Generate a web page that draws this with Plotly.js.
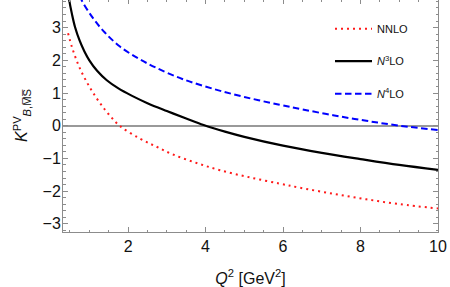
<!DOCTYPE html>
<html>
<head>
<meta charset="utf-8">
<script src="https://cdn.plot.ly/plotly-3.0.1.min.js"></script>
<style>
  html, body { margin: 0; padding: 0; background: #fff; overflow: hidden; }
  #chart { position: absolute; left: 0; top: -2px; width: 450px; height: 289px; }
</style>
</head>
<body>
<div id="chart"></div>
<script>
// Q^2 [GeV^2] values and K^PV values
const nnloX = [0.45, 0.55, 0.67, 0.8, 0.95, 1.1, 1.3, 1.5, 1.78, 2.3, 2.73, 3.16, 3.77, 4.37, 5.14, 5.91, 6.41, 7.29, 8.15, 9.01, 10];
const nnloY = [2.83, 2.41, 2.0, 1.64, 1.30, 1.0, 0.65, 0.35, 0.0, -0.39, -0.64, -0.88, -1.14, -1.36, -1.58, -1.77, -1.89, -2.08, -2.25, -2.40, -2.53];

const n3loX = [0.45, 0.48, 0.55, 0.63, 0.75, 0.87, 1.0, 1.2, 1.45, 1.75, 2.09, 2.5, 3.0, 3.5, 3.95, 4.5, 5, 6, 7, 8, 9, 10];
const n3loY = [4.1, 3.84, 3.42, 3.02, 2.60, 2.28, 2.00, 1.68, 1.39, 1.14, 0.92, 0.69, 0.45, 0.22, 0.02, -0.18, -0.34, -0.61, -0.83, -1.02, -1.20, -1.35];

const n4loX = [0.65, 0.8, 1.1, 1.4, 1.79, 2.26, 2.73, 3.4, 4.19, 5.0, 5.91, 6.5, 7.29, 8.15, 9.01, 10];
const n4loY = [4.25, 3.84, 3.28, 2.85, 2.42, 2.06, 1.77, 1.43, 1.13, 0.88, 0.64, 0.50, 0.32, 0.15, 0.0, -0.13];

const seriesNames = ['NNLO', '<i>N</i><sup>3</sup>LO', '<i>N</i><sup>4</sup>LO'];
const xTickVals = [2, 4, 6, 8, 10];
const yTickVals = [-3, -2, -1, 0, 1, 2, 3];

const FONT = 'Liberation Sans, Arial, sans-serif';
const AXC = '#8c8c8c';

const traces = [
  { x: nnloX, y: nnloY, name: seriesNames[0], legendgroup: 'a', mode: 'lines',
    line: { color: '#ff1a1a', width: 2, dash: '2px,4px', shape: 'spline' } },
  { x: n3loX, y: n3loY, name: seriesNames[1], legendgroup: 'b', mode: 'lines',
    line: { color: '#000000', width: 2.2, shape: 'spline' } },
  { x: n4loX, y: n4loY, name: seriesNames[2], legendgroup: 'c', mode: 'lines',
    line: { color: '#0000ff', width: 2, dash: '6.5px,3.5px', shape: 'spline' } }
];

const axisCommon = {
  showline: true, linecolor: AXC, linewidth: 1, mirror: 'ticks',
  ticks: 'inside', ticklen: 5, tickcolor: AXC, tickwidth: 1,
  showgrid: false,
  tickfont: { family: FONT, size: 16, color: '#111' },
};

const layout = {
  width: 450, height: 289,
  margin: { l: 63, r: 12, t: 1, b: 55 },
  paper_bgcolor: '#fff', plot_bgcolor: '#fff',
  font: { family: FONT, color: '#111' },
  showlegend: true,
  legend: {
    x: 0.712, y: 0.935, xanchor: 'left', yanchor: 'top',
    bgcolor: 'rgba(0,0,0,0)', borderwidth: 0,
    font: { family: FONT, size: 11, color: '#111' },
    tracegroupgap: 13.5, itemwidth: 37
  },
  xaxis: Object.assign({}, axisCommon, {
    range: [0.32, 10], tickmode: 'array', tickvals: xTickVals,
    zeroline: false,
    minor: { dtick: 0.5, tick0: 0, ticks: 'inside', ticklen: 2.5, tickcolor: AXC, showgrid: false },
    title: { text: '<i>Q</i><sup>2</sup> [GeV<sup>2</sup>]', font: { family: FONT, size: 16, color: '#111' }, standoff: 22 }
  }),
  yaxis: Object.assign({}, axisCommon, {
    range: [-3.25, 3.875], tickmode: 'array', tickvals: yTickVals,
    ticklabelstandoff: -2,
    zeroline: true, zerolinecolor: '#999999', zerolinewidth: 1.6,
    minor: { dtick: 0.2, tick0: 0, ticks: 'inside', ticklen: 2.5, tickcolor: AXC, showgrid: false },
    title: { text: '<i>K</i><sup>PV</sup><sub><i>B</i>,M\u0305S\u0305</sub>', font: { family: FONT, size: 16, color: '#111' }, standoff: 10 }
  })
};

Plotly.newPlot('chart', traces, layout, { displayModeBar: false, staticPlot: true });
</script>
</body>
</html>
